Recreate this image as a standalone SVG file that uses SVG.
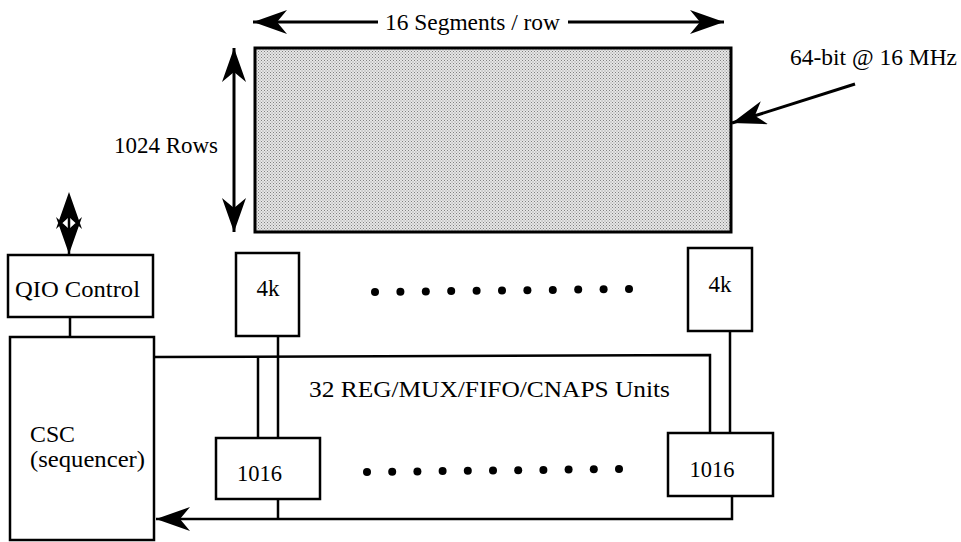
<svg xmlns="http://www.w3.org/2000/svg" width="961" height="542" viewBox="0 0 961 542">
<defs>
<pattern id="stip" width="3" height="3" patternUnits="userSpaceOnUse">
<rect width="3" height="3" fill="#e6e6e6"/>
<rect x="0" y="0" width="1" height="1" fill="#808080"/>
<rect x="1.5" y="1.5" width="1" height="1" fill="#909090"/>
</pattern>
<marker id="ah" viewBox="0 0 34 24" refX="34" refY="12" markerWidth="34" markerHeight="24" markerUnits="userSpaceOnUse" orient="auto-start-reverse">
<path d="M34,12 L0,0 L10,12 L0,24 Z" fill="#000"/>
</marker>
</defs>
<style>
text{font-family:"Liberation Serif","DejaVu Serif",serif;font-size:23px;fill:#000}
.box{fill:#fff;stroke:#000;stroke-width:2.5}
.ln{fill:none;stroke:#000;stroke-width:2.5}
.arr{fill:none;stroke:#000;stroke-width:3}
</style>
<g id="memory">
<rect x="255" y="48" width="476" height="184" fill="url(#stip)" stroke="#000" stroke-width="3"/>
</g>
<g id="labels">
<text x="385" y="30" textLength="175" lengthAdjust="spacingAndGlyphs">16 Segments / row</text>
<text x="114" y="153" textLength="104" lengthAdjust="spacingAndGlyphs">1024 Rows</text>
<text x="790" y="65" textLength="167" lengthAdjust="spacingAndGlyphs">64-bit @ 16 MHz</text>
<text x="309" y="397" textLength="361" lengthAdjust="spacingAndGlyphs">32 REG/MUX/FIFO/CNAPS Units</text>
</g>
<g id="qio">
<rect class="box" x="8" y="255" width="145" height="62"/>
<text x="15" y="297" textLength="125" lengthAdjust="spacingAndGlyphs">QIO Control</text>
</g>
<g id="csc">
<rect class="box" x="10" y="337" width="144" height="203"/>
<text x="30" y="442" textLength="45" lengthAdjust="spacingAndGlyphs">CSC</text>
<text x="30" y="467" textLength="115" lengthAdjust="spacingAndGlyphs">(sequencer)</text>
</g>
<g id="mem4k-left">
<rect class="box" x="236" y="253" width="63" height="83"/>
<text x="268" y="296" text-anchor="middle">4k</text>
</g>
<g id="mem4k-right">
<rect class="box" x="688" y="248" width="64" height="83"/>
<text x="720" y="292" text-anchor="middle">4k</text>
</g>
<g id="cnaps-left">
<rect class="box" x="216" y="438" width="104" height="61"/>
<text x="259.5" y="481" text-anchor="middle" textLength="45" lengthAdjust="spacingAndGlyphs">1016</text>
</g>
<g id="cnaps-right">
<rect class="box" x="668" y="433" width="105" height="63"/>
<text x="712" y="477" text-anchor="middle" textLength="45" lengthAdjust="spacingAndGlyphs">1016</text>
</g>
<g id="dots" fill="#000">
<circle cx="375" cy="292" r="4"/><circle cx="400.4" cy="291.7" r="4"/><circle cx="425.8" cy="291.4" r="4"/><circle cx="451.2" cy="291.1" r="4"/><circle cx="476.6" cy="290.8" r="4"/><circle cx="502" cy="290.5" r="4"/><circle cx="527.4" cy="290.2" r="4"/><circle cx="552.8" cy="289.9" r="4"/><circle cx="578.2" cy="289.6" r="4"/><circle cx="603.6" cy="289.3" r="4"/><circle cx="629" cy="289" r="4"/>
<circle cx="367" cy="472" r="4"/><circle cx="392.2" cy="471.7" r="4"/><circle cx="417.4" cy="471.4" r="4"/><circle cx="442.6" cy="471.1" r="4"/><circle cx="467.8" cy="470.8" r="4"/><circle cx="493" cy="470.5" r="4"/><circle cx="518.2" cy="470.2" r="4"/><circle cx="543.4" cy="469.9" r="4"/><circle cx="568.6" cy="469.6" r="4"/><circle cx="593.8" cy="469.3" r="4"/><circle cx="619" cy="469" r="4"/>
</g>
<g id="connectors">
<line class="arr" x1="378" y1="22" x2="253" y2="22" marker-end="url(#ah)"/>
<line class="arr" x1="568" y1="22" x2="724" y2="22" marker-end="url(#ah)"/>
<line class="arr" x1="234" y1="48" x2="234" y2="232" marker-start="url(#ah)" marker-end="url(#ah)"/>
<line class="arr" x1="855" y1="84" x2="732" y2="123" stroke-width="4" marker-end="url(#ah)"/>
<path d="M69,192 L82,229 L69,217 L56,229 Z M69,254 L56,217 L69,229 L82,217 Z" fill="#000"/>
<line class="ln" x1="69" y1="200" x2="69" y2="255"/>
<line class="ln" x1="70" y1="317" x2="70" y2="337"/>
<polyline class="ln" points="154,357 710,355 710,433"/>
<line class="ln" x1="258" y1="357" x2="258" y2="438"/>
<line class="ln" x1="278" y1="336" x2="278" y2="438"/>
<line class="ln" x1="730" y1="331" x2="730" y2="433"/>
<line class="ln" x1="278" y1="499" x2="278" y2="519"/>
<polyline class="ln" points="732,496 732,519 156,519" marker-end="url(#ah)"/>
</g>
</svg>
